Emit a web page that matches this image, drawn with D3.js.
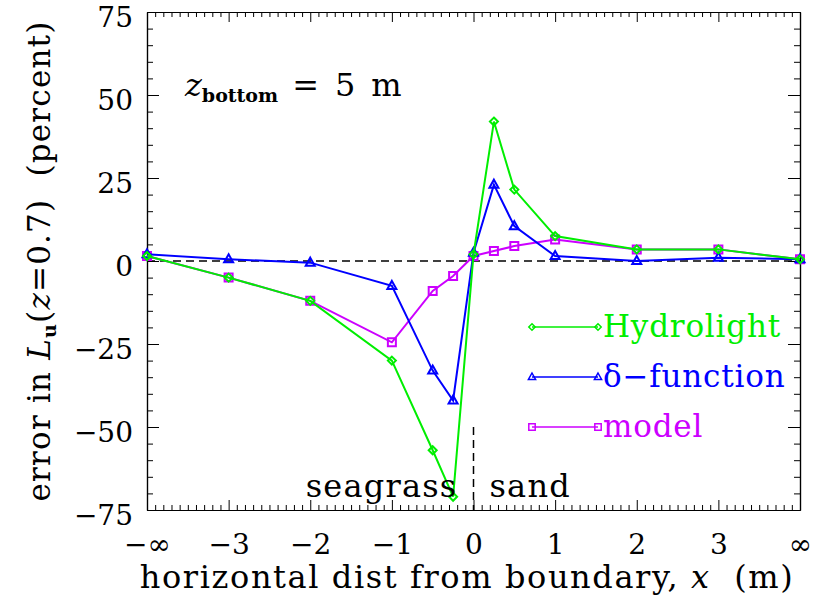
<!DOCTYPE html>
<html>
<head>
<meta charset="utf-8">
<script src="https://cdn.jsdelivr.net/npm/d3@7"></script>
<style>
  body { margin: 0; background: #fff; }
  svg text { font-family: 'DejaVu Serif', serif; }
</style>
</head>
<body>
<div id="chart"></div>
<script>
// x positions: -4 stands for -infinity, 4 for +infinity
const xPos = [-4, -3, -2, -1, -0.5, -0.25, 0, 0.25, 0.5, 1, 2, 3, 4];
const hydrolight = [1.5, -5, -12, -30, -57, -71, 2, 42, 21.5, 7.5, 3.5, 3.5, 0.5];
const deltaFunction = [2, 0.5, -0.5, -7.5, -33, -42, 2.5, 23, 10.5, 1.5, 0, 1, 0.5];
const model = [1.5, -5, -12, -24.5, -9, -4.5, 1.5, 3, 4.5, 6.5, 3.5, 3.5, 0.5];

const xTickValues = [-4, -3, -2, -1, 0, 1, 2, 3, 4];
const xTickLabels = ['\u2212\u221e', '\u22123', '\u22122', '\u22121', '0', '1', '2', '3', '\u221e'];
const yTickValues = [-75, -50, -25, 0, 25, 50, 75];

const width = 814;
const height = 596;
const margin = { top: 12, right: 14, bottom: 86, left: 147 };
const innerW = width - margin.left - margin.right;
const innerH = height - margin.top - margin.bottom;

const svg = d3
	.select('#chart')
	.append('svg')
	.attr('width', width)
	.attr('height', height);

const g = svg.append('g').attr('transform', `translate(${margin.left},${margin.top})`);

const xScale = d3.scaleLinear().domain([-4, 4]).range([0, innerW]);
const yScale = d3.scaleLinear().domain([-75, 75]).range([innerH, 0]);

// minor ticks
const xMinor = d3.range(-40, 41).map((d) => d / 10).filter((d) => !xTickValues.includes(d));
const yMinor = d3.range(-75, 76, 5).filter((d) => !yTickValues.includes(d));

const styleAxis = (sel) => {
	sel.selectAll('path').attr('stroke', '#000').attr('stroke-width', 1.2);
	sel.selectAll('line').attr('stroke', '#000').attr('stroke-width', 1);
	sel.selectAll('text').attr('font-size', 28).attr('fill', '#000');
};

// bottom
g.append('g')
	.attr('transform', `translate(0,${innerH})`)
	.call(d3.axisBottom(xScale).tickValues(xTickValues).tickSizeInner(-10).tickSizeOuter(0)
		.tickPadding(24).tickFormat((d, i) => xTickLabels[i]))
	.call(styleAxis);
g.append('g')
	.attr('transform', `translate(0,${innerH})`)
	.call(d3.axisBottom(xScale).tickValues(xMinor).tickSizeInner(-5).tickSizeOuter(0).tickFormat(''))
	.call(styleAxis);
// top
g.append('g')
	.call(d3.axisTop(xScale).tickValues(xTickValues).tickSizeInner(-10).tickSizeOuter(0).tickFormat(''))
	.call(styleAxis);
g.append('g')
	.call(d3.axisTop(xScale).tickValues(xMinor).tickSizeInner(-5).tickSizeOuter(0).tickFormat(''))
	.call(styleAxis);
// left
g.append('g')
	.call(d3.axisLeft(yScale).tickValues(yTickValues).tickSizeInner(-12).tickSizeOuter(0)
		.tickPadding(14).tickFormat((d) => (d < 0 ? '\u2212' + Math.abs(d) : d)))
	.call(styleAxis)
	.call((sel) => sel.selectAll('text').attr('dy', '0.5em'));
g.append('g')
	.call(d3.axisLeft(yScale).tickValues(yMinor).tickSizeInner(-6).tickSizeOuter(0).tickFormat(''))
	.call(styleAxis);
// right
g.append('g')
	.attr('transform', `translate(${innerW},0)`)
	.call(d3.axisRight(yScale).tickValues(yTickValues).tickSizeInner(-12).tickSizeOuter(0).tickFormat(''))
	.call(styleAxis);
g.append('g')
	.attr('transform', `translate(${innerW},0)`)
	.call(d3.axisRight(yScale).tickValues(yMinor).tickSizeInner(-6).tickSizeOuter(0).tickFormat(''))
	.call(styleAxis);

// zero line and boundary line
g.append('line')
	.attr('x1', 0).attr('x2', innerW)
	.attr('y1', yScale(0)).attr('y2', yScale(0))
	.attr('stroke', '#000').attr('stroke-width', 1.5).attr('stroke-dasharray', '8,5');
g.append('line')
	.attr('x1', xScale(0)).attr('x2', xScale(0))
	.attr('y1', yScale(-50)).attr('y2', innerH)
	.attr('stroke', '#000').attr('stroke-width', 1.5).attr('stroke-dasharray', '8,5');

const series = [
	{ name: 'Hydrolight', values: hydrolight, color: '#00ee00', marker: 'diamond' },
	{ name: '\u03b4\u2212function', values: deltaFunction, color: '#0000ff', marker: 'triangle' },
	{ name: 'model', values: model, color: '#cc00ff', marker: 'square' }
];

const markerPath = (type, s = 1) => {
	if (type === 'diamond') return `M0,${-4 * s}L${4 * s},0L0,${4 * s}L${-4 * s},0Z`;
	if (type === 'triangle') return `M0,${-5 * s}L${4.5 * s},${3 * s}L${-4.5 * s},${3 * s}Z`;
	return `M${-4 * s},${-4 * s}L${4 * s},${-4 * s}L${4 * s},${4 * s}L${-4 * s},${4 * s}Z`;
};

const line = d3
	.line()
	.x((d) => xScale(d[0]))
	.y((d) => yScale(d[1]));

// draw model first, then delta, then hydrolight
[series[2], series[1], series[0]].forEach((s) => {
	const pts = xPos.map((x, i) => [x, s.values[i]]);
	g.append('path')
		.datum(pts)
		.attr('fill', 'none')
		.attr('stroke', s.color)
		.attr('stroke-width', 2)
		.attr('d', line);
	g.selectAll(null)
		.data(pts)
		.enter()
		.append('path')
		.attr('transform', (d) => `translate(${xScale(d[0])},${yScale(d[1])})`)
		.attr('d', markerPath(s.marker))
		.attr('fill', 'none')
		.attr('stroke', s.color)
		.attr('stroke-width', 2);
});

// legend
series.forEach((s, i) => {
	const ly = 327 + i * 50 - margin.top;
	const lx0 = 532 - margin.left;
	const lx1 = 598 - margin.left;
	g.append('line')
		.attr('x1', lx0).attr('x2', lx1)
		.attr('y1', ly).attr('y2', ly)
		.attr('stroke', s.color).attr('stroke-width', 1.5);
	[lx0, lx1].forEach((x) => {
		g.append('path')
			.attr('transform', `translate(${x},${ly})`)
			.attr('d', markerPath(s.marker, 0.8))
			.attr('fill', 'none')
			.attr('stroke', s.color)
			.attr('stroke-width', 1.5);
	});
	g.append('text')
		.attr('x', lx1 + 5)
		.attr('y', ly + 10)
		.attr('font-size', 31)
		.attr('letter-spacing', 0.8)
		.attr('fill', s.color)
		.text(s.name);
});

// annotations
g.append('text')
	.attr('x', xScale(0) - 16)
	.attr('y', 497 - margin.top)
	.attr('text-anchor', 'end')
	.attr('font-size', 32)
	.attr('letter-spacing', 1.2)
	.text('seagrass');
g.append('text')
	.attr('x', xScale(0) + 16)
	.attr('y', 497 - margin.top)
	.attr('font-size', 32)
	.attr('letter-spacing', 1.2)
	.text('sand');

const zt = svg.append('text').attr('x', 185).attr('y', 96).attr('font-size', 32);
zt.append('tspan').attr('font-style', 'italic').text('z');
zt.append('tspan').attr('font-size', 19).attr('font-weight', 'bold').attr('dy', 6).text('bottom');
zt.append('tspan').attr('dy', -6).attr('dx', 14).text('=');
zt.append('tspan').attr('dx', 16).text('5');
zt.append('tspan').attr('dx', 16).text('m');

// axis titles
const xt = svg.append('text')
	.attr('x', 467)
	.attr('y', 588)
	.attr('text-anchor', 'middle')
	.attr('font-size', 32)
	.attr('letter-spacing', 1.6);
xt.append('tspan').text('horizontal dist from boundary, ');
xt.append('tspan').attr('font-style', 'italic').text('x');
xt.append('tspan').text('\u00a0 (m)');

const yt = svg.append('text')
	.attr('transform', `translate(50,${margin.top + innerH / 2}) rotate(-90)`)
	.attr('text-anchor', 'middle')
	.attr('font-size', 31)
	.attr('letter-spacing', 1.2);
yt.append('tspan').text('error in ');
yt.append('tspan').attr('font-style', 'italic').text('L');
yt.append('tspan').attr('font-size', 19).attr('font-weight', 'bold').attr('dy', 6).text('u');
yt.append('tspan').attr('dy', -6).text('(');
yt.append('tspan').attr('font-style', 'italic').text('z');
yt.append('tspan').text('=0.7)\u00a0 (percent)');
</script>
</body>
</html>
